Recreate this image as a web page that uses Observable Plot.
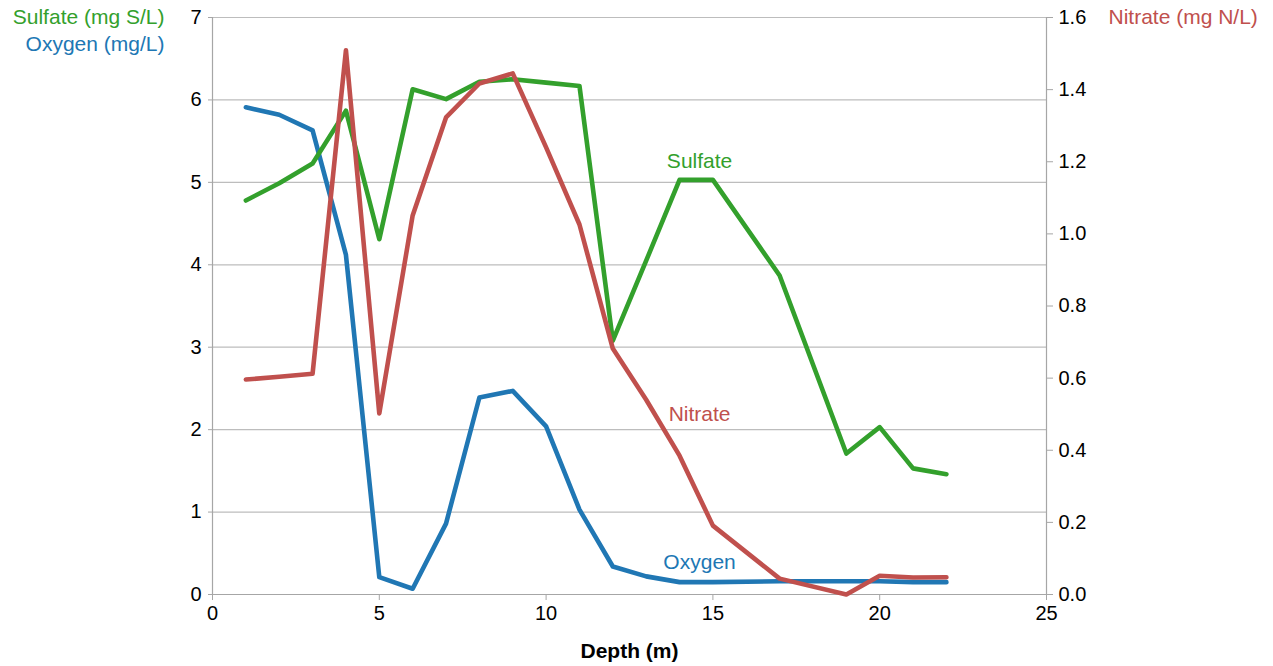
<!DOCTYPE html>
<html>
<head>
<meta charset="utf-8">
<script src="https://cdn.jsdelivr.net/npm/d3@7"></script>
<script src="https://cdn.jsdelivr.net/npm/@observablehq/plot@0.6"></script>
<style>
  html, body { margin: 0; padding: 0; background: #fff; }
  #chart svg { font-family: "Liberation Sans", Arial, sans-serif; }
</style>
</head>
<body>
<div id="chart"></div>
<script>
const depth   = [1, 2, 3, 4, 5, 6, 7, 8, 9, 10, 11, 12, 13, 14, 15, 17, 19, 20, 21, 22];
const oxygen  = [5.91, 5.82, 5.63, 4.12, 0.21, 0.07, 0.86, 2.39, 2.47, 2.04, 1.03, 0.34, 0.22, 0.15, 0.15, 0.16, 0.16, 0.16, 0.15, 0.15];
const sulfate = [4.78, 4.99, 5.23, 5.87, 4.31, 6.13, 6.01, 6.22, 6.25, 6.21, 6.17, 3.08, 4.05, 5.03, 5.03, 3.87, 1.71, 2.03, 1.53, 1.46];
const nitrate = [0.596, 0.604, 0.612, 1.509, 0.502, 1.051, 1.323, 1.417, 1.445, 1.24, 1.026, 0.682, 0.54, 0.385, 0.191, 0.044, 0.0, 0.052, 0.047, 0.048];

const xTicks = [0, 5, 10, 15, 20, 25];
const leftTicks = [0, 1, 2, 3, 4, 5, 6, 7];
const rightTicks = [0, 0.2, 0.4, 0.6, 0.8, 1.0, 1.2, 1.4, 1.6];

const seriesLabels = [
  {name: "Sulfate", depth: 14.6, value: 5.25},
  {name: "Nitrate", depth: 14.6, value: 0.5, right: true},
  {name: "Oxygen",  depth: 14.6, value: 0.39}
];

const colors = {Oxygen: "#2077b4", Sulfate: "#33a02c", Nitrate: "#c0504d"};
const leftMax = 7, rightMax = 1.6;
const k = leftMax / rightMax; // nitrate -> left-scale

const rows = (name, vals, f = 1) => depth.map((d, i) => ({depth: d, v: vals[i] * f, name}));
const data = [
  ...rows("Oxygen", oxygen),
  ...rows("Sulfate", sulfate),
  ...rows("Nitrate", nitrate, k)
];
const labels = seriesLabels.map(l => ({...l, v: l.right ? l.value * k : l.value}));

const chart = Plot.plot({
  width: 1273,
  height: 666,
  marginLeft: 212,
  marginRight: 227,
  marginTop: 17,
  marginBottom: 72,
  style: {fontFamily: "Liberation Sans, Arial, sans-serif", fontSize: "20px", color: "#000"},
  x: {domain: [0, 25]},
  y: {domain: [0, leftMax]},
  marks: [
    Plot.gridY(leftTicks, {stroke: "#bdbdbd", strokeOpacity: 1, strokeWidth: 1.2}),
    Plot.ruleX([0, 25], {stroke: "#a6a6a6", strokeWidth: 1.2}),
    Plot.ruleY([0], {stroke: "#a6a6a6", strokeWidth: 1.2}),
    Plot.axisX({ticks: xTicks, tickSize: 6, tickPadding: 5, stroke: "#a6a6a6", fill: "#000", fontSize: 20, label: null}),
    Plot.axisY({ticks: leftTicks, tickFormat: d3.format("d"), tickSize: 4, tickPadding: 7, stroke: "#a6a6a6", fill: "#000", fontSize: 20, label: null}),
    Plot.axisY({anchor: "right", ticks: rightTicks.map(t => t * k), tickFormat: d => (d / k).toFixed(1),
                tickSize: 6, tickPadding: 6, stroke: "#a6a6a6", fill: "#000", fontSize: 20, label: null}),
    Plot.line(data, {x: "depth", y: "v", z: "name", stroke: d => colors[d.name],
                     strokeWidth: 4.6, strokeLinejoin: "round", strokeLinecap: "round"}),
    Plot.text(labels, {x: "depth", y: "v", text: "name", fill: d => colors[d.name], fontSize: 21}),
    Plot.text(["Sulfate (mg S/L)"], {frameAnchor: "top-left", textAnchor: "end", lineAnchor: "middle", dx: -48, dy: 0, fill: colors.Sulfate, fontSize: 21}),
    Plot.text(["Oxygen (mg/L)"], {frameAnchor: "top-left", textAnchor: "end", lineAnchor: "middle", dx: -48, dy: 27, fill: colors.Oxygen, fontSize: 21}),
    Plot.text(["Nitrate (mg N/L)"], {frameAnchor: "top-right", textAnchor: "start", lineAnchor: "middle", dx: 62, dy: 0, fill: colors.Nitrate, fontSize: 21}),
    Plot.text(["Depth (m)"], {frameAnchor: "bottom", lineAnchor: "middle", dy: 57, fontWeight: "bold", fontSize: 21, fill: "#000"})
  ]
});
document.getElementById("chart").appendChild(chart);
</script>
</body>
</html>
